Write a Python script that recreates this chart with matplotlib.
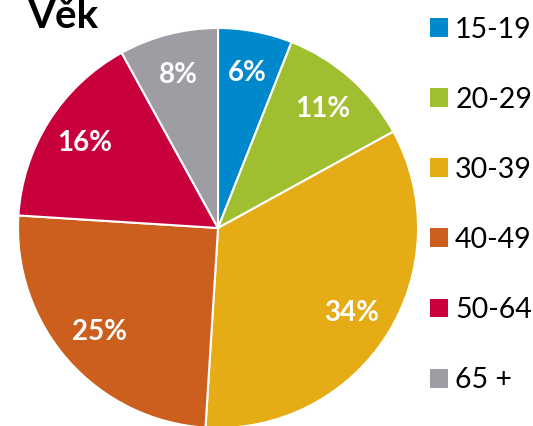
import matplotlib.pyplot as plt
from matplotlib.patches import Patch

plt.rcParams['font.family'] = ['Lato', 'DejaVu Sans']

# age groups and share of respondents (%)
groups = ['15-19', '20-29', '30-39', '40-49', '50-64', '65 +']
shares = [6, 11, 34, 25, 16, 8]
colors = ['#0088CC', '#A0BF30', '#E6AC16', '#CC5E1E', '#C8003C', '#9D9DA3']

fig = plt.figure(figsize=(5.33, 4.26), dpi=100)
ax = fig.add_axes([0.0338, -0.0047, 0.7505, 0.939])

wedges, texts, autotexts = ax.pie(
    shares, colors=colors, startangle=90, counterclock=False,
    autopct='%d%%', pctdistance=0.79,
    wedgeprops=dict(edgecolor='white', linewidth=1.5),
    textprops=dict(color='white', fontsize=20, fontweight='bold'))
ax.set_xlim(-1, 1)
ax.set_ylim(-1, 1)
ax.set_aspect('equal')

fig.text(0.052, 0.934, 'Věk', fontsize=29, fontweight='bold', va='baseline', ha='left')

handles = [Patch(facecolor=c, edgecolor='none') for c in colors]
fig.legend(handles, groups, loc='upper left', bbox_to_anchor=(0.785, 0.988),
           frameon=False, fontsize=20.5, handlelength=0.64, handleheight=0.64,
           handletextpad=0.25, labelspacing=1.55, borderaxespad=0)

fig.savefig('out.png', dpi=100)
